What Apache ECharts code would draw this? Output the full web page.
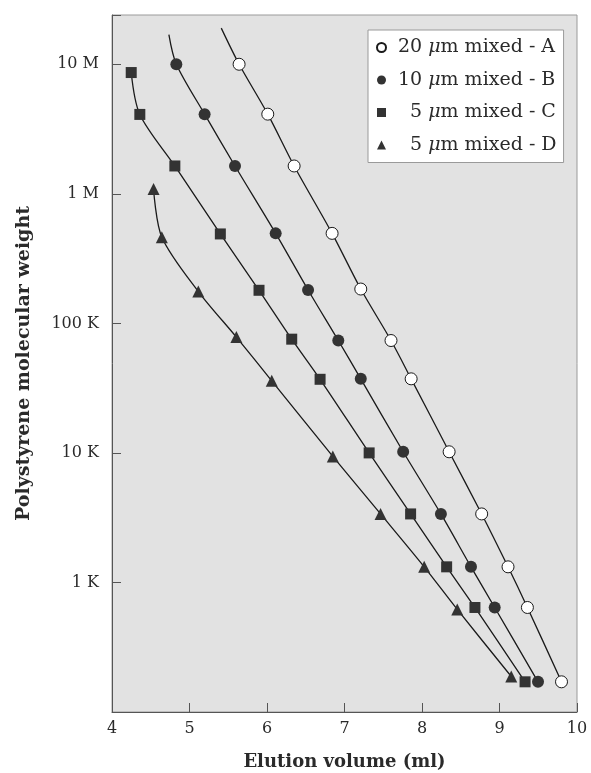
<!DOCTYPE html>
<html>
<head>
<meta charset="utf-8">
<script src="https://cdn.jsdelivr.net/npm/echarts@6/dist/echarts.min.js"></script>
<style>
  html, body { margin: 0; padding: 0; background: #fff; }
  #chart { width: 591px; height: 773px; }
</style>
</head>
<body>
<div id="chart"></div>
<script>
// Calibration curves: elution volume (ml) vs polystyrene molecular weight
const seriesNames = ['20 μm mixed - A', '10 μm mixed - B', '\u20075 μm mixed - C', '\u20075 μm mixed - D'];

const volA = [5.64, 6.01, 6.35, 6.84, 7.21, 7.60, 7.86, 8.35, 8.77, 9.11, 9.36, 9.80];
const mwA  = [1.0e7, 4.12e6, 1.64e6, 4.95e5, 1.84e5, 7.37e4, 3.73e4, 1.02e4, 3380, 1320, 641, 171];
const leadA = [5.41, 1.9e7];   // upper extension of curve A (no marker)

const volB = [4.83, 5.195, 5.587, 6.112, 6.53, 6.92, 7.21, 7.757, 8.244, 8.632, 8.938, 9.497];
const mwB  = [1.0e7, 4.12e6, 1.64e6, 4.95e5, 1.81e5, 7.37e4, 3.73e4, 1.02e4, 3380, 1320, 641, 171];
const leadB = [4.734, 1.69e7]; // upper extension of curve B (no marker)

const volC = [4.248, 4.359, 4.811, 5.398, 5.897, 6.319, 6.685, 7.318, 7.853, 8.318, 8.683, 9.33];
const mwC  = [8.63e6, 4.1e6, 1.64e6, 4.9e5, 1.8e5, 7.55e4, 3.7e4, 1.0e4, 3380, 1320, 641, 171];

const volD = [4.536, 4.643, 5.114, 5.605, 6.061, 6.849, 7.465, 8.028, 8.455, 9.152];
const mwD  = [1.09e6, 4.62e5, 1.76e5, 7.83e4, 3.6e4, 9.4e3, 3380, 1320, 619, 188];

const xTicks = [4, 5, 6, 7, 8, 9, 10];
const yTickValues = [1e3, 1e4, 1e5, 1e6, 1e7];
const yTickLabels = ['1 K', '10 K', '100 K', '1 M', '10 M'];

const serif = 'DejaVu Serif';
const ink = '#2a2a2a';

function pairs(xs, ys, lead) {
  const pts = xs.map((x, i) => [x, ys[i]]);
  if (lead) pts.unshift({ value: lead, symbol: 'none' });
  return pts;
}

function makeSeries(name, xs, ys, lead, symbol, size, fill) {
  return {
    name: name,
    type: 'line',
    data: pairs(xs, ys, lead),
    smooth: 0.3,
    symbol: symbol,
    symbolSize: size,
    showAllSymbol: true,
    lineStyle: { color: '#1a1a1a', width: 1.3 },
    itemStyle: { color: fill, borderColor: '#1a1a1a', borderWidth: fill === '#fff' ? 1 : 0 },
    emphasis: { disabled: true }
  };
}

const chart = echarts.init(document.getElementById('chart'), null, { renderer: 'canvas' });

chart.setOption({
  animation: false,
  grid: {
    left: 112, right: 14, top: 15, bottom: 61,
    outerBoundsMode: 'none',
    containLabel: false,
    show: true, backgroundColor: '#e2e2e2', borderColor: '#9a9a9a', borderWidth: 1
  },
  legend: {
    orient: 'vertical',
    left: 368, top: 30,
    itemWidth: 9, itemHeight: 9, itemGap: 13.5,
    padding: [8, 7, 8, 8],
    backgroundColor: '#fff',
    borderColor: '#9a9a9a', borderWidth: 1,
    selectedMode: false,
    data: [
      { name: seriesNames[0], icon: 'circle' },
      { name: seriesNames[1], icon: 'circle' },
      { name: seriesNames[2], icon: 'rect' },
      { name: seriesNames[3], icon: 'triangle' }
    ],
    formatter: n => n.replace('μ', '{mu|μ}'),
    textStyle: {
      fontFamily: serif, fontSize: 19, lineHeight: 19, color: ink,
      padding: [0, 0, 0, 7],
      rich: { mu: { fontFamily: serif, fontSize: 19, lineHeight: 19, fontStyle: 'italic', color: ink } }
    }
  },
  xAxis: {
    type: 'value',
    min: xTicks[0], max: xTicks[xTicks.length - 1], interval: 1,
    name: 'Elution volume (ml)',
    nameLocation: 'middle', nameGap: 41,
    nameTextStyle: { fontFamily: serif, fontSize: 18, fontWeight: 'bold', color: ink },
    axisLine: { lineStyle: { color: '#555', width: 1 } },
    axisTick: { inside: true, length: 9, lineStyle: { color: '#555' } },
    axisLabel: { fontFamily: serif, fontSize: 16, color: ink, margin: 9 },
    splitLine: { show: false }
  },
  yAxis: {
    type: 'log', logBase: 10,
    min: 100, max: 2.4e7,
    name: 'Polystyrene molecular weight',
    nameLocation: 'middle', nameGap: 78, nameRotate: 90,
    nameTextStyle: { fontFamily: serif, fontSize: 19, fontWeight: 'bold', color: ink },
    axisLine: { show: true, lineStyle: { color: '#555', width: 1 } },
    axisTick: { inside: true, length: 9, lineStyle: { color: '#555' } },
    axisLabel: {
      fontFamily: serif, fontSize: 16, color: ink, margin: 13,
      formatter: v => {
        const i = yTickValues.findIndex(t => Math.abs(Math.log10(v) - Math.log10(t)) < 1e-6);
        return i >= 0 ? yTickLabels[i] : '';
      }
    },
    splitLine: { show: false }
  },
  series: [
    makeSeries(seriesNames[0], volA, mwA, leadA, 'circle', 12, '#fff'),
    makeSeries(seriesNames[1], volB, mwB, leadB, 'circle', 12, '#333'),
    makeSeries(seriesNames[2], volC, mwC, null, 'rect', 11, '#333'),
    makeSeries(seriesNames[3], volD, mwD, null, 'triangle', 12, '#333')
  ]
});
</script>
</body>
</html>
